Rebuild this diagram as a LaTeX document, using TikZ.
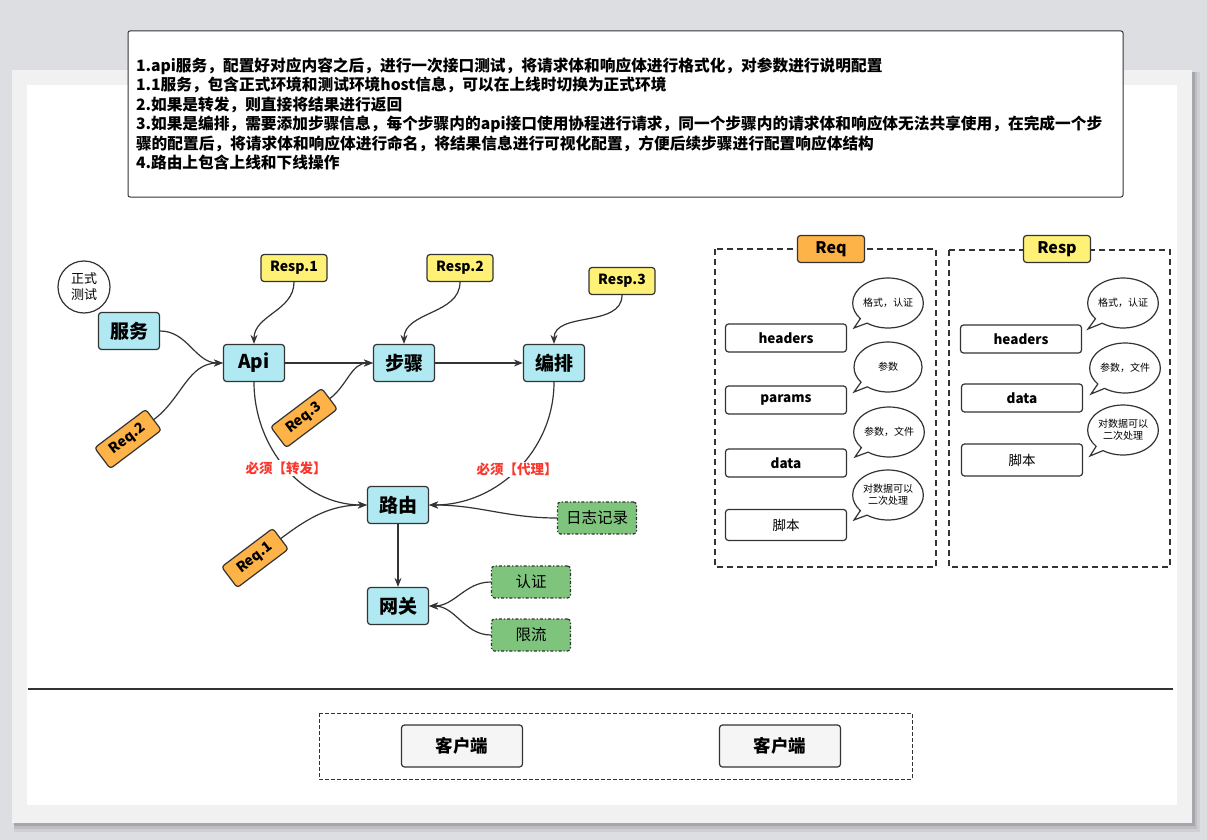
\documentclass[tikz,border=0pt]{standalone}
\usepackage{fontspec}
\setmainfont{Noto Sans CJK SC}
\usetikzlibrary{arrows.meta,shapes.callouts}
\definecolor{bgcol}{RGB}{221,222,226}
\definecolor{panelcol}{RGB}{241,241,241}
\definecolor{linecol}{RGB}{51,51,51}
\definecolor{bluecol}{RGB}{176,233,241}
\definecolor{yellowcol}{RGB}{255,241,118}
\definecolor{orangecol}{RGB}{253,179,72}
\definecolor{greencol}{RGB}{126,196,125}
\definecolor{redcol}{RGB}{250,55,45}
\definecolor{clientcol}{RGB}{245,245,245}

\begin{document}
\begin{tikzpicture}[x=1pt,y=-1pt,
                    box/.style={draw=linecol, line width=1.2pt, rounded corners=3pt, inner sep=0pt},
                    svc/.style={box, fill=bluecol, minimum width=61pt, minimum height=37pt,
                                font=\fontsize{19pt}{22pt}\selectfont\bfseries},
                    resp/.style={box, fill=yellowcol, minimum width=66pt, minimum height=27pt,
                                 font=\fontsize{14pt}{16pt}\selectfont\bfseries},
                    req/.style={box, fill=orangecol, minimum width=64pt, minimum height=26pt, rotate=37,
                                font=\fontsize{14pt}{16pt}\selectfont\bfseries},
                    plug/.style={box, fill=greencol, dash dot, minimum width=79pt, minimum height=32pt,
                                 font=\fontsize{15.5pt}{18pt}\selectfont},
                    grouptag/.style={box, minimum width=67pt, minimum height=27pt,
                                     font=\fontsize{16pt}{18pt}\selectfont\bfseries},
                    field/.style={box, fill=white, minimum width=121pt, minimum height=28pt,
                                  font=\fontsize{13.5pt}{16pt}\selectfont\bfseries},
                    note/.style={ellipse callout, draw=linecol, line width=1.2pt, fill=white,
                                 minimum width=68pt, minimum height=50pt, inner sep=0pt, align=center,
                                 font=\fontsize{10pt}{12pt}\selectfont, callout absolute pointer={#1}},
                    flow/.style={draw=linecol, line width=1.2pt, -{Stealth[length=9pt,width=7pt]}},
                    must/.style={fill=white, text=redcol, inner sep=1pt,
                                 font=\fontsize{13.5pt}{16pt}\selectfont\bfseries},
                    group/.style={draw=linecol, line width=1.2pt, dash pattern=on 6pt off 4pt},
                    client/.style={box, fill=clientcol, minimum width=121pt, minimum height=42pt,
                                   font=\fontsize{17.5pt}{20pt}\selectfont\bfseries}]
                    \useasboundingbox (0,0) rectangle (1207,840);
                    \fill[bgcol] (0,0) rectangle (1207,840);
                    \fill[black, opacity=0.06] (14,72) rectangle (1200,832);
                    \fill[black, opacity=0.08] (14,72) rectangle (1197,829);
                    \fill[black, opacity=0.12] (14,72) rectangle (1195,826);
                    \fill[panelcol] (12,70) rectangle (1192,823);
                    \fill[white] (27,85) rectangle (1177,805);

                    \node[draw=linecol, line width=1pt, rounded corners=2pt, fill=white,
                          minimum height=166pt, text width=979pt, inner xsep=8pt, align=left,
                          font=\fontsize{15.7pt}{19.5pt}\selectfont\bfseries] (intro) at (625.5,114)
                        {1.api服务，配置好对应内容之后，进行一次接口测试，将请求体和响应体进行格式化，对参数进行说明配置\\
                         1.1服务，包含正式环境和测试环境host信息，可以在上线时切换为正式环境\\
                         2.如果是转发，则直接将结果进行返回\\
                         3.如果是编排，需要添加步骤信息，每个步骤内的api接口使用协程进行请求，同一个步骤内的请求体和响应体无法共享使用，在完成一个步\\
                         骤的配置后，将请求体和响应体进行命名，将结果信息进行可视化配置，方便后续步骤进行配置响应体结构\\
                         4.路由上包含上线和下线操作};

                    \node[circle, draw=linecol, line width=1.2pt, fill=white, minimum size=52pt, inner sep=0pt,
                          align=center, font=\fontsize{13pt}{16pt}\selectfont] (env) at (84,287) {正式\\测试};
                    \node[svc] (service) at (129,331) {服务};
                    \node[svc] (api) at (254,363) {Api};
                    \node[svc] (step) at (404,363) {步骤};
                    \node[svc] (orch) at (554,363) {编排};
                    \node[svc] (route) at (398,505) {路由};
                    \node[svc] (gate) at (398,606) {网关};
                    \node[resp] (resp1) at (294,268) {Resp.1};
                    \node[resp] (resp2) at (460,268) {Resp.2};
                    \node[resp] (resp3) at (622,281) {Resp.3};
                    \node[req] (req2) at (128,439) {Req.2};
                    \node[req] (req3) at (304,418) {Req.3};
                    \node[req] (req1) at (255,558) {Req.1};
                    \node[plug] (log) at (597,518) {日志记录};
                    \node[plug] (auth) at (531,582) {认证};
                    \node[plug] (limit) at (531,635) {限流};

                    \draw[flow] (service.east) to[out=0,in=180] (api.west);
                    \draw[flow] (req2.east) to[out=37,in=180] (api.west);
                    \draw[flow] (resp1.south) to[out=-90,in=90] (api.north);
                    \draw[flow] (api.east) -- (step.west);
                    \draw[flow] (req3.east) to[out=37,in=180] (step.west);
                    \draw[flow] (resp2.south) to[out=-90,in=90] (step.north);
                    \draw[flow] (step.east) -- (orch.west);
                    \draw[flow] (resp3.south) to[out=-90,in=90] (orch.north);
                    \draw[flow] (api.south) to[out=-90,in=180] node[must] {必须【转发】} (route.west);
                    \draw[flow] (orch.south) to[out=-90,in=0] node[must] {必须【代理】} (route.east);
                    \draw[flow] (log.west) to[out=180,in=0] (route.east);
                    \draw[flow] (req1.east) to[out=37,in=180] (route.west);
                    \draw[flow] (route.south) -- (gate.north);
                    \draw[flow] (auth.west) to[out=180,in=0] (gate.east);
                    \draw[flow] (limit.west) to[out=180,in=0] (gate.east);

                    \draw[group] (715,249) rectangle (936,567);
                    \node[grouptag, fill=orangecol] (reqtag) at (831,249) {Req};
                    \node[field] (reqheaders) at (786,338) {headers};
                    \node[field] (reqparams) at (786,400) {params};
                    \node[field] (reqdata) at (786,463) {data};
                    \node[field, minimum height=31pt, font=\fontsize{13.5pt}{16pt}\selectfont] (reqscript) at (786,525) {脚本};
                    \node[note={(854,328)}] (reqnote1) at (888,303) {格式，认证};
                    \node[note={(854,392)}] (reqnote2) at (888,367) {参数};
                    \node[note={(855,457)}] (reqnote3) at (889,432) {参数，文件};
                    \node[note={(854,520)}] (reqnote4) at (888,495) {对数据可以\\二次处理};

                    \draw[group] (949,250) rectangle (1170,567);
                    \node[grouptag, fill=yellowcol] (resptag) at (1057,249) {Resp};
                    \node[field] (respheaders) at (1021,339) {headers};
                    \node[field] (respdata) at (1022,398) {data};
                    \node[field, minimum height=32pt, font=\fontsize{13.5pt}{16pt}\selectfont] (respscript) at (1022,460) {脚本};
                    \node[note={(1088,329)}] (respnote1) at (1123,303) {格式，认证};
                    \node[note={(1091,394)}] (respnote2) at (1125,368) {参数，文件};
                    \node[note={(1090,456)}] (respnote3) at (1123,430) {对数据可以\\二次处理};

                    \draw[linecol, line width=1.3pt] (28,689) -- (1173,689);
                    \draw[group, line width=1pt, dash pattern=on 4pt off 2pt] (319,713) rectangle (912,779);
                    \node[client] (client1) at (462,746) {客户端};
                    \node[client] (client2) at (780,746) {客户端};
\end{tikzpicture}
\end{document}
